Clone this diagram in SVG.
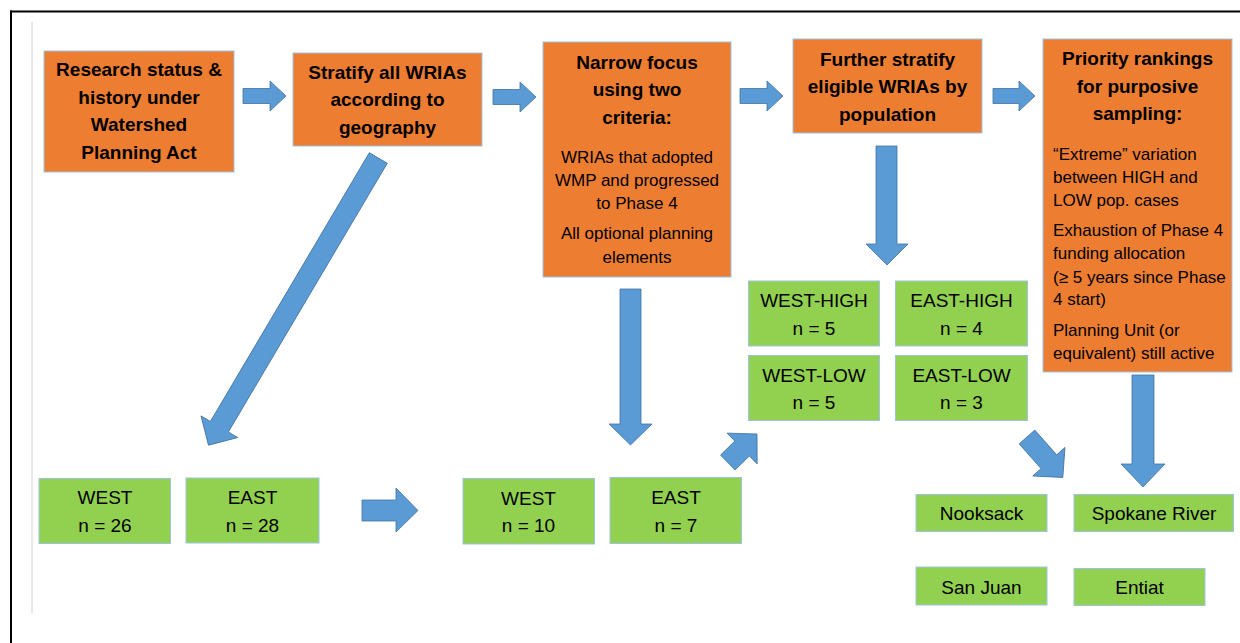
<svg xmlns="http://www.w3.org/2000/svg" width="1240" height="643" viewBox="0 0 1240 643">
<style>
  .org{fill:#ED7D31;stroke:#9DC3E6;stroke-width:1}
  .grn{fill:#92D050;stroke:#9DC3E6;stroke-width:1}
  .arr{fill:#5B9BD5;stroke:#41719C;stroke-width:0.8}
  text{font-family:"Liberation Sans",Arial,sans-serif;fill:#000}
  .b{font-weight:bold;font-size:19px;text-anchor:middle}
  .r{font-size:17px;text-anchor:middle}
  .l{font-size:17px;text-anchor:start}
  .g{font-size:19px;text-anchor:middle}
</style>
<rect width="1240" height="643" fill="#fff"/>
<line x1="10" y1="11.5" x2="1240" y2="11.5" stroke="#000" stroke-width="2"/>
<line x1="11" y1="10.5" x2="11" y2="643" stroke="#000" stroke-width="2"/>
<line x1="32" y1="22" x2="32" y2="613" stroke="#d0d0d0" stroke-width="1"/>

<g id="connectors">
  <polygon class="arr" points="243,88.5 270,88.5 270,81 286,96 270,111 270,103.5 243,103.5"/>
  <polygon class="arr" points="493,89.5 520,89.5 520,82 536,97 520,112 520,104.5 493,104.5"/>
  <polygon class="arr" points="740,88.5 767,88.5 767,81 783,96 767,111 767,103.5 740,103.5"/>
  <polygon class="arr" points="993,88.5 1019,88.5 1019,81 1035,96 1019,111 1019,103.5 993,103.5"/>
  <polygon class="arr" points="362,500 396,500 396,488 418,510.5 396,532 396,521 362,521"/>
  <polygon class="arr" points="620,289 641,289 641,424 652,424 630.5,445 609,424 620,424"/>
  <polygon class="arr" points="876,146 897,146 897,244 908,244 887,265 866,244 876,244"/>
  <polygon class="arr" points="1132,375 1154,375 1154,464 1165,464 1143,487 1121,464 1132,464"/>
  <polygon class="arr" transform="translate(378.3,158) rotate(120.6)" points="0,-10.4 312.2,-10.4 312.2,-21.3 333.6,0 312.2,21.3 312.2,10.4 0,10.4"/>
  <polygon class="arr" transform="translate(727.8,462.5) rotate(-44.3)" points="0,-10.4 20,-10.4 20,-21.5 40.8,0 20,21.5 20,10.4 0,10.4"/>
  <polygon class="arr" transform="translate(1027,437) rotate(48.5)" points="0,-10.4 33,-10.4 33,-21.5 54,0 33,21.5 33,10.4 0,10.4"/>
</g>

<g id="n-research">
  <rect class="org" x="44" y="51" width="190" height="121"/>
  <text class="b" x="139" y="76">Research status &amp;</text>
  <text class="b" x="139" y="103.5">history under</text>
  <text class="b" x="139" y="131">Watershed</text>
  <text class="b" x="139" y="158.5">Planning Act</text>
</g>
<g id="n-stratify">
  <rect class="org" x="293" y="53" width="189" height="93"/>
  <text class="b" x="387.5" y="78.5">Stratify all WRIAs</text>
  <text class="b" x="387.5" y="106">according to</text>
  <text class="b" x="387.5" y="133.5">geography</text>
</g>
<g id="n-narrow">
  <rect class="org" x="543" y="42" width="188" height="235"/>
  <text class="b" x="637" y="68.5">Narrow focus</text>
  <text class="b" x="637" y="96">using two</text>
  <text class="b" x="637" y="123.5">criteria:</text>
  <text class="r" x="637" y="163">WRIAs that adopted</text>
  <text class="r" x="637" y="186">WMP and progressed</text>
  <text class="r" x="637" y="209">to Phase 4</text>
  <text class="r" x="637" y="239">All optional planning</text>
  <text class="r" x="637" y="263">elements</text>
</g>
<g id="n-further">
  <rect class="org" x="793" y="39" width="189" height="94"/>
  <text class="b" x="887.5" y="65.5">Further stratify</text>
  <text class="b" x="887.5" y="93">eligible WRIAs by</text>
  <text class="b" x="887.5" y="120.5">population</text>
</g>
<g id="n-priority">
  <rect class="org" x="1043" y="39" width="189" height="333"/>
  <text class="b" x="1137.5" y="65">Priority rankings</text>
  <text class="b" x="1137.5" y="92.5">for purposive</text>
  <text class="b" x="1137.5" y="120">sampling:</text>
  <text class="l" x="1053" y="160">“Extreme” variation</text>
  <text class="l" x="1053" y="183">between HIGH and</text>
  <text class="l" x="1053" y="205.5">LOW pop. cases</text>
  <text class="l" x="1053" y="236">Exhaustion of Phase 4</text>
  <text class="l" x="1053" y="259">funding allocation</text>
  <text class="l" x="1053" y="282.5">(≥ 5 years since Phase</text>
  <text class="l" x="1053" y="305">4 start)</text>
  <text class="l" x="1053" y="336">Planning Unit (or</text>
  <text class="l" x="1053" y="358.5">equivalent) still active</text>
</g>

<g id="n-west-high">
  <rect class="grn" x="748.5" y="281" width="131" height="65"/>
  <text class="g" x="814" y="307">WEST-HIGH</text>
  <text class="g" x="814" y="334.5">n = 5</text>
</g>
<g id="n-east-high">
  <rect class="grn" x="895.5" y="281" width="132" height="65"/>
  <text class="g" x="961.5" y="307">EAST-HIGH</text>
  <text class="g" x="961.5" y="334.5">n = 4</text>
</g>
<g id="n-west-low">
  <rect class="grn" x="748.5" y="355.5" width="131" height="65"/>
  <text class="g" x="814" y="381.5">WEST-LOW</text>
  <text class="g" x="814" y="409">n = 5</text>
</g>
<g id="n-east-low">
  <rect class="grn" x="895.5" y="355.5" width="132" height="65"/>
  <text class="g" x="961.5" y="381.5">EAST-LOW</text>
  <text class="g" x="961.5" y="409">n = 3</text>
</g>

<g id="n-west26">
  <rect class="grn" x="39" y="478.5" width="131.5" height="65"/>
  <text class="g" x="105" y="504">WEST</text>
  <text class="g" x="105" y="531.5">n = 26</text>
</g>
<g id="n-east28">
  <rect class="grn" x="186" y="478" width="133" height="65"/>
  <text class="g" x="252.5" y="504">EAST</text>
  <text class="g" x="252.5" y="531.5">n = 28</text>
</g>
<g id="n-west10">
  <rect class="grn" x="463" y="478.5" width="131.5" height="65.5"/>
  <text class="g" x="528.5" y="504.5">WEST</text>
  <text class="g" x="528.5" y="531.5">n = 10</text>
</g>
<g id="n-east7">
  <rect class="grn" x="610" y="477.5" width="131.5" height="66"/>
  <text class="g" x="676" y="504">EAST</text>
  <text class="g" x="676" y="531.5">n = 7</text>
</g>

<g id="n-nooksack">
  <rect class="grn" x="916" y="494.5" width="131" height="37"/>
  <text class="g" x="981.5" y="520">Nooksack</text>
</g>
<g id="n-spokane">
  <rect class="grn" x="1074" y="494.5" width="159.5" height="37"/>
  <text class="g" x="1154" y="520">Spokane River</text>
</g>
<g id="n-sanjuan">
  <rect class="grn" x="916" y="567" width="131" height="38"/>
  <text class="g" x="981.5" y="593.5">San Juan</text>
</g>
<g id="n-entiat">
  <rect class="grn" x="1074" y="568.5" width="131" height="37"/>
  <text class="g" x="1139.5" y="594">Entiat</text>
</g>
</svg>
